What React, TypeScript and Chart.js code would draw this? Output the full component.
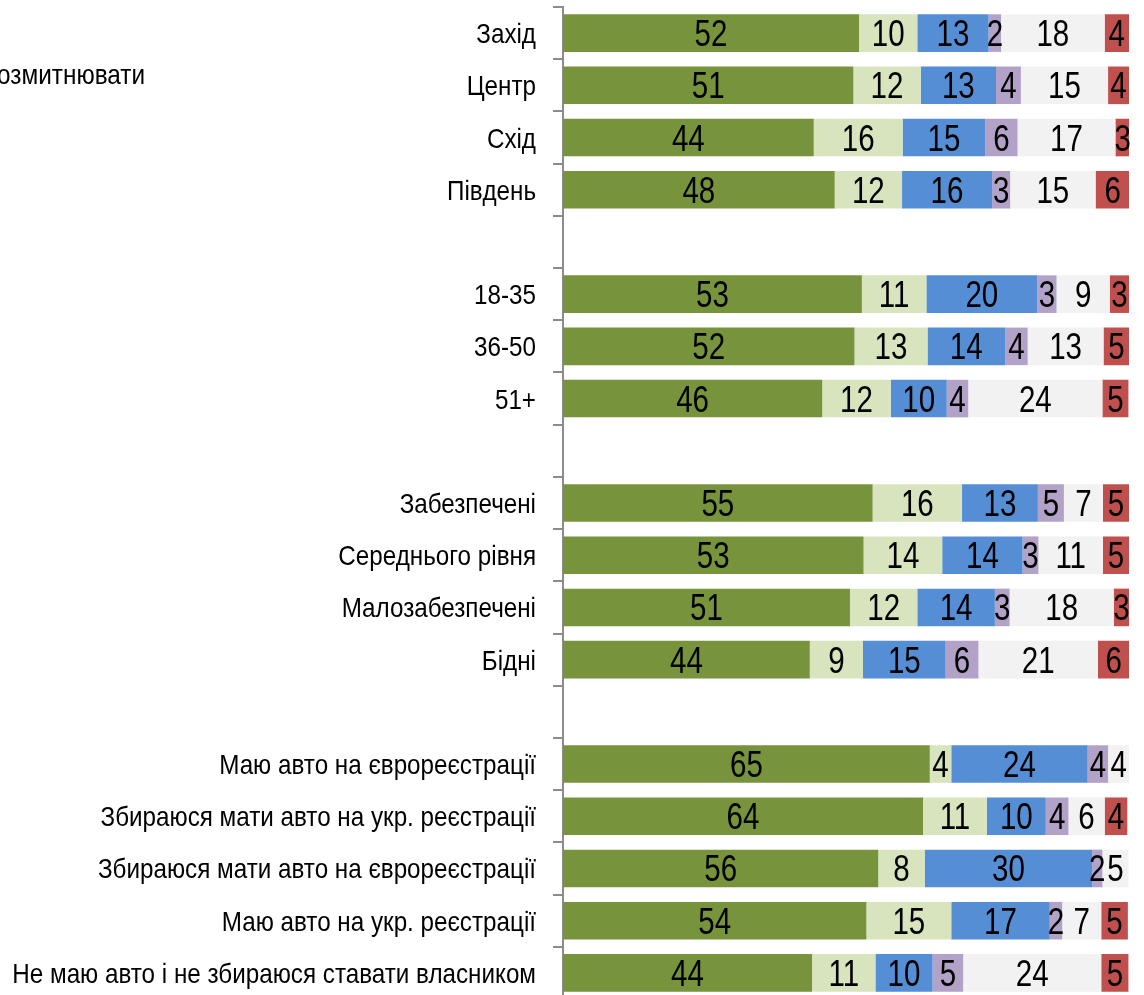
import React, { useEffect, useRef } from "react";
import { Chart, registerables } from "chart.js";

Chart.register(...registerables);

const categories = [
  "Захід", "Центр", "Схід", "Південь", "",
  "18-35", "36-50", "51+", "",
  "Забезпечені", "Середнього рівня", "Малозабезпечені", "Бідні", "",
  "Маю авто на єврореєстрації",
  "Збираюся мати авто на укр. реєстрації",
  "Збираюся мати авто на єврореєстрації",
  "Маю авто на укр. реєстрації",
  "Не маю авто і не збираюся ставати власником",
];

const seriesNames = ["Серія 1", "Серія 2", "Серія 3", "Серія 4", "Серія 5", "Серія 6"];

const series1 = [52.3, 51.3, 44.3, 48.0, null, 52.8, 51.5, 45.8, null, 54.7, 53.1, 50.7, 43.6, null, 64.8, 63.6, 55.7, 53.6, 44.0];
const series2 = [10.3, 11.9, 15.7, 11.9, null, 11.4, 12.9, 12.1, null, 15.8, 13.9, 11.9, 9.4, null, 3.8, 11.3, 8.2, 15.0, 11.2];
const series3 = [12.6, 13.3, 14.6, 15.9, null, 19.6, 13.7, 9.9, null, 13.4, 14.2, 13.7, 14.6, null, 24.1, 10.4, 29.6, 17.4, 10.1];
const series4 = [2.2, 4.4, 5.7, 3.2, null, 3.4, 4.0, 3.8, null, 4.6, 2.8, 2.6, 5.8, null, 3.6, 4.0, 1.8, 2.2, 5.4];
const series5 = [18.3, 15.4, 17.3, 15.1, null, 9.4, 13.4, 23.7, null, 6.9, 11.4, 18.4, 21.1, null, 3.8, 6.4, 4.6, 6.9, 24.4];
const series6 = [4.3, 3.7, 2.6, 6.0, null, 3.4, 4.6, 4.6, null, 4.6, 4.6, 2.7, 5.6, null, 0, 4.0, 0, 4.7, 4.8];

const legendText = "озмитнювати";

const colors = ["#77933C", "#D7E4BD", "#558ED5", "#B3A2C7", "#F2F2F2", "#C0504D"];

const FONT = '"Liberation Sans", Arial, sans-serif';

const labelPlugin = {
  id: "segLabels",
  afterDraw(chart: any) {
    const ctx = chart.ctx;
    const yScale = chart.scales.y;
    // category labels (narrow)
    ctx.save();
    ctx.font = `28px ${FONT}`;
    ctx.fillStyle = "#000000";
    ctx.textAlign = "right";
    ctx.textBaseline = "alphabetic";
    categories.forEach((lab, i) => {
      if (!lab) return;
      const y = yScale.getPixelForValue(i);
      ctx.save();
      ctx.translate(536, y + 10);
      ctx.scale(0.865, 1);
      ctx.fillText(lab, 0, 0);
      ctx.restore();
    });
    ctx.restore();
    // data labels (narrow)
    ctx.save();
    ctx.font = `36px ${FONT}`;
    ctx.fillStyle = "#000000";
    ctx.textAlign = "center";
    ctx.textBaseline = "alphabetic";
    chart.data.datasets.forEach((ds: any, di: number) => {
      const meta = chart.getDatasetMeta(di);
      meta.data.forEach((el: any, i: number) => {
        const v = ds.data[i];
        if (v === null || v === undefined || v === 0) return;
        const p = el.getProps(["x", "y", "base"], true);
        ctx.save();
        ctx.translate((p.x + p.base) / 2, p.y + 13);
        ctx.scale(0.82, 1);
        ctx.fillText(String(Math.round(v)), 0, 0);
        ctx.restore();
      });
    });
    ctx.restore();
  },
};

export default function App() {
  const ref = useRef<HTMLCanvasElement>(null);
  useEffect(() => {
    if (!ref.current) return;
    const all = [series1, series2, series3, series4, series5, series6];
    const chart = new Chart(ref.current, {
      type: "bar",
      data: {
        labels: categories,
        datasets: all.map((d, i) => ({
          label: seriesNames[i],
          data: d,
          backgroundColor: colors[i],
          borderWidth: 0,
          barPercentage: 0.72,
          categoryPercentage: 1,
        })),
      },
      options: {
        indexAxis: "y",
        animation: false,
        responsive: false,
        maintainAspectRatio: false,
        layout: { padding: { top: 7, right: 15, bottom: 1, left: 0 } },
        plugins: { legend: { display: false }, tooltip: { enabled: false } },
        scales: {
          x: { stacked: true, display: false, min: 0, max: 100 },
          y: {
            stacked: true,
            afterFit: (s: any) => {
              s.width = 563;
              s.paddingTop = 0;
              s.paddingBottom = 0;
            },
            grid: {
              display: true,
              drawOnChartArea: false,
              drawTicks: true,
              tickLength: 10,
              offset: true,
              color: "#8C8C8C",
              lineWidth: 2,
            },
            border: { display: true, color: "#8C8C8C", width: 2 },
            ticks: {
              color: "rgba(0,0,0,0)",
              padding: 0,
              autoSkip: false,
              font: { family: FONT, size: 1 },
              callback: () => "",
            },
          },
        },
      },
      plugins: [labelPlugin],
    });
    return () => chart.destroy();
  }, []);
  return (
    <div style={{ position: "absolute", left: 0, top: 0, width: 1144, height: 1000, background: "#fff" }}>
      <canvas ref={ref} width={1144} height={1000} style={{ display: "block" }} />
      <div
        style={{
          position: "absolute",
          left: -3,
          top: 61,
          fontFamily: FONT,
          fontSize: 28,
          lineHeight: "28px",
          color: "#000",
          whiteSpace: "nowrap",
          transform: "scaleX(0.87)",
          transformOrigin: "0 0",
        }}
      >
        {legendText}
      </div>
    </div>
  );
}
